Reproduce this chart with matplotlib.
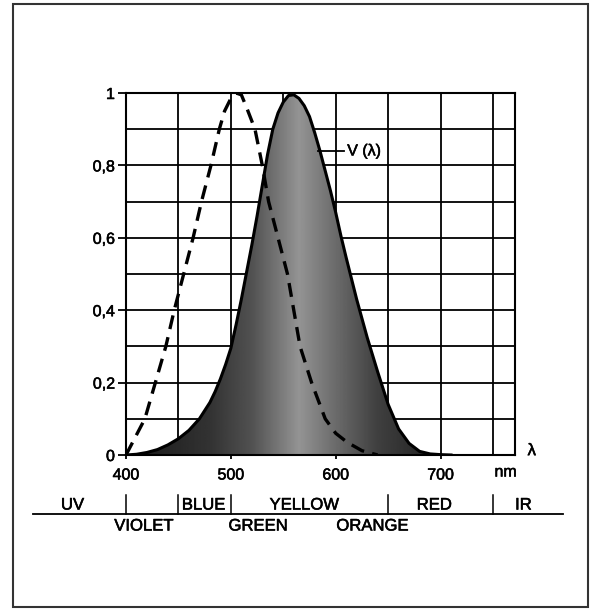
import numpy as np
import matplotlib
matplotlib.use("Agg")
import matplotlib.pyplot as plt
import matplotlib.transforms as mtransforms
import matplotlib.patheffects as pe
from matplotlib.patches import Rectangle

plt.rcParams['font.family'] = ['Liberation Sans', 'DejaVu Sans']

# photopic curve V(lambda)
v_nm = [400, 410, 420, 430, 440, 450, 460, 470, 480, 485, 490, 495, 500, 505,
        510, 515, 520, 525, 530, 535, 540, 545, 550, 555, 560, 565, 570, 575,
        580, 585, 590, 595, 600, 605, 610, 620, 630, 640, 650, 660, 670, 680,
        690, 700, 710]
v_val = [0.0, 0.002, 0.007, 0.015, 0.028, 0.045, 0.068, 0.1, 0.145, 0.175, 0.21,
         0.25, 0.295, 0.36, 0.43, 0.505, 0.58, 0.66, 0.745, 0.83, 0.9, 0.945,
         0.975, 0.993, 0.995, 0.985, 0.965, 0.935, 0.89, 0.84, 0.785, 0.73, 0.67,
         0.605, 0.545, 0.43, 0.325, 0.23, 0.14, 0.072, 0.032, 0.01, 0.003, 0.001,
         0.0]

# dashed curve (night vision)
s_nm = [400, 409, 418, 428, 438, 446, 455, 464, 472, 481, 489, 494, 500, 505,
        510, 515, 523, 530, 536, 545, 554, 560, 566, 577, 590, 600, 611, 625, 640]
s_val = [0.0, 0.05, 0.1, 0.2, 0.3, 0.4, 0.5, 0.6, 0.7, 0.8, 0.9, 0.95, 0.985, 1.0,
         0.995, 0.96, 0.9, 0.8, 0.7, 0.6, 0.5, 0.4, 0.3, 0.2, 0.1, 0.06, 0.035,
         0.012, 0.0]

y_ticks = [0, 0.2, 0.4, 0.6, 0.8, 1.0]
y_labels = ["0", "0,2", "0,4", "0,6", "0,8", "1"]
x_ticks = [400, 500, 600, 700]
x_labels = ["400", "500", "600", "700"]

band_edges = [400, 450, 500, 650, 750]
upper_names = ["UV", "BLUE", "YELLOW", "RED", "IR"]
upper_pos = [349, 474, 570, 694, 779]
lower_names = ["VIOLET", "GREEN", "ORANGE"]
lower_pos = [417, 526, 635]

# scanned print looks heavier than the plain font
thick = [pe.withStroke(linewidth=0.4, foreground='black')]

W, H = 595, 609
fig = plt.figure(figsize=(W / 100, H / 100), dpi=100)
ax = fig.add_axes([126 / W, 1 - 455 / H, 389 / W, 362 / H])
ax.set_xlim(400, 771)
ax.set_ylim(0, 1)

# grid
ax.set_xticks(x_ticks)
ax.set_xticklabels(x_labels)
ax.set_xticks([450, 550, 650, 750], minor=True)
ax.set_yticks(y_ticks)
ax.set_yticklabels(y_labels)
ax.set_yticks([0.1, 0.3, 0.5, 0.7, 0.9], minor=True)
ax.grid(which='both', color='black', lw=1.3)
ax.set_axisbelow(True)
ax.tick_params(axis='y', which='major', length=6, width=1.3, pad=2, labelsize=11.5)
ax.tick_params(axis='x', which='major', length=3, width=1.3, pad=6, labelsize=11.5)
ax.tick_params(which='minor', length=0)
for lab in ax.get_xticklabels() + ax.get_yticklabels():
    lab.set_path_effects(thick)
for sp in ax.spines.values():
    sp.set_linewidth(1.5)

# shaded V(lambda) area, grey gradient clipped to the curve
poly = ax.fill_between(v_nm, v_val, 0, color='none', lw=0)
gx = np.linspace(400, 771, 500)
shade = np.interp(gx, [420, 480, 520, 565, 600, 640, 700],
                  [0.12, 0.2, 0.32, 0.58, 0.42, 0.25, 0.12])
im = ax.imshow(shade[None, :], extent=[400, 771, 0, 1], origin='lower',
               aspect='auto', cmap='gray', vmin=0, vmax=1, zorder=1)
im.set_clip_path(poly.get_paths()[0], transform=ax.transData)
ax.set_xlim(400, 771)
ax.set_ylim(0, 1)

ax.plot(v_nm, v_val, color='black', lw=2.2, zorder=3)
ax.plot(s_nm, s_val, color='black', lw=2.4, dashes=(4.2, 2.5), zorder=4)

# V(lambda) label with leader
ax.plot([583, 608], [0.84, 0.84], color='black', lw=1.3, zorder=4)
ax.text(611, 0.84, "V (λ)", ha='left', va='center', fontsize=11.5, path_effects=thick)
ax.text(762, -0.047, "nm", ha='center', va='center', fontsize=11.5, clip_on=False,
        path_effects=thick)
ax.text(787, 0.012, "λ", ha='center', va='center', fontsize=12, clip_on=False,
        path_effects=thick)

# colour band row under the chart
trans = mtransforms.blended_transform_factory(ax.transData, fig.transFigure)
y_sep = 1 - 514 / H
y_top = 1 - 495 / H
ax.plot([311, 817], [y_sep, y_sep], color='black', lw=1.3, transform=trans, clip_on=False)
for e in band_edges:
    ax.plot([e, e], [y_top, y_sep], color='black', lw=1.1, transform=trans, clip_on=False)
for name, p in zip(upper_names, upper_pos):
    ax.text(p, 1 - 505 / H, name, ha='center', va='center', fontsize=12,
            transform=trans, clip_on=False, path_effects=thick)
for name, p in zip(lower_names, lower_pos):
    ax.text(p, 1 - 526 / H, name, ha='center', va='center', fontsize=12,
            transform=trans, clip_on=False, path_effects=thick)

# outer frame
fig.add_artist(Rectangle((13 / W, 2 / H), 575 / W, 603 / H, transform=fig.transFigure,
                         fill=False, ec='#333333', lw=1.5))

fig.savefig("out.png", dpi=100)
